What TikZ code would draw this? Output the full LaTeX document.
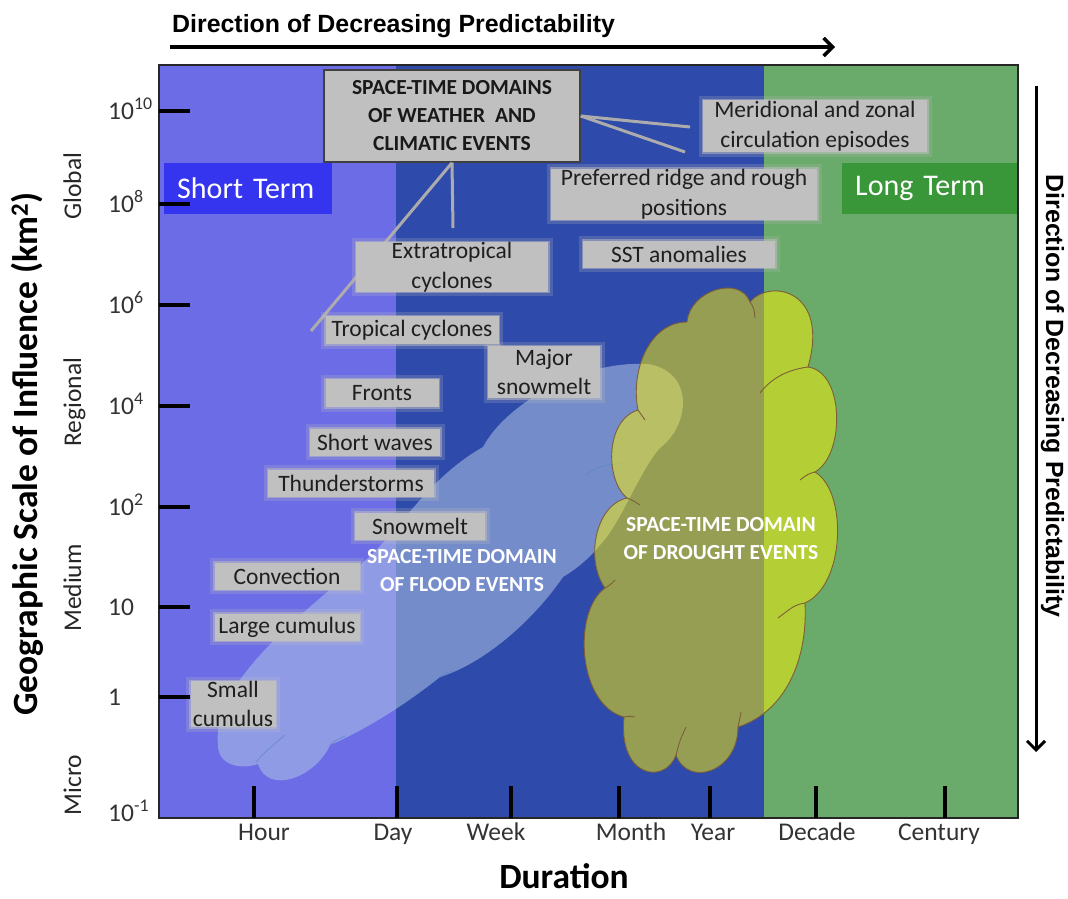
\documentclass[tikz,border=0pt]{standalone}
\usepackage{fontspec}
\setmainfont{Carlito}
\newfontfamily\arrowFamily{Liberation Sans}
\usetikzlibrary{arrows.meta}

\def \shortTermStr {Short Term}
\def \longTermStr {Long Term}
\def \weatherDomainStr {SPACE-TIME DOMAINS\\OF WEATHER \ AND\\CLIMATIC EVENTS}
\def \meridionalStr {Meridional and zonal\\circulation episodes}
\def \ridgeStr {Preferred ridge and rough\\positions}
\def \sstStr {SST anomalies}
\def \extratropicalStr {Extratropical\\cyclones}
\def \tropicalStr {Tropical cyclones}
\def \majorSnowmeltStr {Major\\snowmelt}
\def \frontsStr {Fronts}
\def \shortWavesStr {Short waves}
\def \thunderstormsStr {Thunderstorms}
\def \snowmeltStr {Snowmelt}
\def \convectionStr {Convection}
\def \largeCumulusStr {Large cumulus}
\def \smallCumulusStr {Small\\cumulus}
\def \floodDomainStr {SPACE-TIME DOMAIN\\OF FLOOD EVENTS}
\def \droughtDomainStr {SPACE-TIME DOMAIN\\OF DROUGHT EVENTS}
\def \predictabilityStr {Direction of Decreasing Predictability}
\def \scaleAxisStr {Geographic Scale of Influence (km\textsuperscript{2})}
\def \durationStr {Duration}

\def \evFont {\fontsize{23.5}{29.5}\selectfont}
\def \tickFont {\fontsize{25.5}{30}\selectfont}
\def \termFont {\fontsize{30}{34}\selectfont}
\def \domainFont {\fontsize{21.5}{28}\selectfont\bfseries}
\def \titleFont {\fontsize{35.5}{40}\selectfont\bfseries}
\def \arrowFont {\arrowFamily\fontsize{24.9}{28}\selectfont\bfseries}

\definecolor{hourblue}{RGB}{108,108,230}
\definecolor{dayblue}{RGB}{46,74,170}
\definecolor{decadegreen}{RGB}{106,170,107}
\definecolor{shortblue}{RGB}{53,53,240}
\definecolor{longgreen}{RGB}{57,150,57}
\definecolor{boxgray}{RGB}{192,192,192}
\definecolor{linkgray}{RGB}{172,172,172}
\definecolor{floodfill}{RGB}{175,195,230}
\definecolor{floodedge}{RGB}{95,135,200}
\definecolor{droughtedge}{RGB}{125,95,55}

\begin{document}
\begin{tikzpicture}[x=1pt, y=-1pt,
  evbox/.style={fill=boxgray, draw=boxgray, draw opacity=0.5, line width=3pt,
    preaction={draw=boxgray, draw opacity=0.22, line width=9pt},
    inner sep=0pt, align=center, text=black!88, font=\evFont},
  termbox/.style={anchor=west, minimum height=51pt, inner xsep=13pt, inner ysep=0pt,
    align=left, text=white, font=\termFont},
  linkline/.style={linkgray, line width=3pt},
  tickline/.style={black, line width=3.5pt},
  ticklabel/.style={text=black!80, font=\tickFont, inner sep=0pt},
  scalelabel/.style={text=black!85, font=\tickFont, rotate=90, anchor=base, inner sep=0pt},
  domaintext/.style={text=white, font=\domainFont, align=center},
  predarrow/.style={line width=3.5pt, -{Straight Barb[length=9pt, width=18pt]}},
  notch/.style={line width=0.9pt}]

\useasboundingbox[fill=white] (0,0) rectangle (1068,899);

% time bands
\fill[hourblue] (159,65) rectangle (396,818);
\fill[dayblue] (396,65) rectangle (764,818);
\fill[decadegreen] (764,65) rectangle (1018,818);

\node[termbox, fill=shortblue, text width=142pt] (shortTerm) at (164,188) {\shortTermStr};
\node[termbox, fill=longgreen, text width=150pt] (longTerm) at (842,188) {\longTermStr};

% flood cloud
\fill[floodfill, fill opacity=0.55]
  (218,745) .. controls (212,690) and (280,630) .. (360,565)
  .. controls (400,532) and (425,480) .. (483,447)
  .. controls (505,405) and (580,360) .. (648,364)
  .. controls (695,372) and (690,425) .. (660,448)
  .. controls (640,470) and (620,525) .. (600,545)
  .. controls (590,558) and (575,570) .. (563,577)
  .. controls (530,625) and (480,665) .. (440,677)
  .. controls (405,705) and (365,730) .. (330,745)
  .. controls (315,778) and (268,795) .. (258,764)
  .. controls (240,770) and (218,765) .. (218,745) -- cycle;
\begin{scope}[floodedge, notch, draw opacity=0.7]
\draw (256,762) .. controls (265,752) .. (285,735);
\draw (330,745) .. controls (336,740) .. (345,736);
\draw (440,677) .. controls (446,673) .. (454,671);
\draw (585,475) .. controls (600,466) .. (622,463);
\end{scope}

% drought cloud
\draw[fill=yellow, fill opacity=0.5, draw=droughtedge, notch]
  (687,322) .. controls (690,290) and (740,275) .. (750,302)
  .. controls (770,278) and (830,290) .. (808,367)
  .. controls (845,372) and (845,455) .. (815,472)
  .. controls (848,492) and (845,585) .. (805,603)
  .. controls (808,660) and (785,712) .. (738,727)
  .. controls (738,772) and (688,788) .. (676,755)
  .. controls (665,785) and (618,778) .. (624,717)
  .. controls (578,705) and (572,612) .. (605,588)
  .. controls (585,560) and (595,505) .. (627,498)
  .. controls (605,480) and (605,420) .. (638,410)
  .. controls (630,370) and (650,322) .. (687,322) -- cycle;
\begin{scope}[droughtedge, notch]
\draw (750,302) .. controls (754,308) .. (755,318);
\draw (808,367) .. controls (785,370) and (770,380) .. (760,393);
\draw (815,472) .. controls (808,474) .. (800,480);
\draw (805,603) .. controls (795,605) .. (778,618);
\draw (738,727) .. controls (740,720) .. (741,712);
\draw (676,755) .. controls (680,740) .. (686,727);
\draw (624,717) .. controls (628,716) .. (635,717);
\draw (605,588) .. controls (610,585) .. (615,580);
\draw (627,498) .. controls (632,500) .. (640,505);
\draw (638,410) .. controls (641,415) .. (645,420);
\end{scope}

% event boxes
\node[fill=boxgray, draw=black!75, line width=1.5pt, minimum width=256pt, minimum height=92pt,
  inner sep=0pt, align=center, font=\domainFont, text=black!90] (wxBox) at (452,116) {\weatherDomainStr};

\coordinate (tcEnd) at (311,331);
\coordinate (xtEnd) at (453,228);
\coordinate (mzEnd) at (690,127);
\coordinate (prEnd) at (685,152);
\draw[linkline] (wxBox.south) -- (tcEnd);
\draw[linkline] (wxBox.south) -- (xtEnd);
\draw[linkline] (wxBox.east) -- (mzEnd);
\draw[linkline] (wxBox.east) -- (prEnd);

\node[evbox, minimum width=224pt, minimum height=52pt] (mzBox) at (815,126) {\meridionalStr};
\node[evbox, minimum width=266pt, minimum height=51pt] (prBox) at (684,194) {\ridgeStr};
\node[evbox, minimum width=192pt, minimum height=27pt] (sstBox) at (679,254) {\sstStr};
\node[evbox, minimum width=192pt, minimum height=48pt] (xtBox) at (452,267) {\extratropicalStr};
\node[evbox, minimum width=173pt, minimum height=28pt] (tcBox) at (412,330) {\tropicalStr};
\node[evbox, minimum width=112pt, minimum height=52pt] (msBox) at (544,372) {\majorSnowmeltStr};
\node[evbox, minimum width=113pt, minimum height=28pt] (frBox) at (382,393) {\frontsStr};
\node[evbox, minimum width=130pt, minimum height=27pt] (swBox) at (375,442) {\shortWavesStr};
\node[evbox, minimum width=166pt, minimum height=27pt] (tsBox) at (351,483) {\thunderstormsStr};
\node[evbox, minimum width=130pt, minimum height=27pt] (smBox) at (420,526) {\snowmeltStr};
\node[evbox, minimum width=145pt, minimum height=27pt] (cvBox) at (287,576) {\convectionStr};
\node[evbox, minimum width=145pt, minimum height=27pt] (lcBox) at (287,627) {\largeCumulusStr};
\node[evbox, minimum width=85pt, minimum height=46pt] (scBox) at (233,704) {\smallCumulusStr};

\node[domaintext] (floodText) at (462,571) {\floodDomainStr};
\node[domaintext] (droughtText) at (721,539) {\droughtDomainStr};

% frame and ticks
\draw[black!85, line width=1.5pt] (159,65) rectangle (1018,818);
\foreach \yy/\lab [count=\i] in {111/{10\textsuperscript{10}}, 204/{10\textsuperscript{8}},
    305/{10\textsuperscript{6}}, 406/{10\textsuperscript{4}}, 507/{10\textsuperscript{2}},
    607/{10}, 697/{1}} {
  \draw[tickline] (159,\yy) -- (190,\yy);
  \node[ticklabel, anchor=base west] (ylab\i) at (108,\yy+8) {\lab};
}
\node[ticklabel, anchor=base west] (ylabMin) at (108,821) {10\textsuperscript{-1}};

\foreach \xx/\lx/\lab [count=\i] in {254/264/Hour, 397/393/Day, 511/496/Week,
    619/631/Month, 710/713/Year, 816/817/Decade, 945/939/Century} {
  \draw[tickline] (\xx,786) -- (\xx,818);
  \node[ticklabel, anchor=base] (xlab\i) at (\lx,840) {\lab};
}

% scale classes
\node[scalelabel] (globalLab) at (81,186) {Global};
\node[scalelabel] (regionalLab) at (81,402) {Regional};
\node[scalelabel] (mediumLab) at (81,588) {Medium};
\node[scalelabel] (microLab) at (81,785) {Micro};

% axis titles
\node[font=\titleFont, rotate=90, anchor=base, inner sep=0pt] (scaleTitle) at (37,454) {\scaleAxisStr};
\node[font=\titleFont, anchor=base, inner sep=0pt] (durationTitle) at (564,888) {\durationStr};

% predictability arrows
\node[font=\arrowFont, anchor=base west, inner sep=0pt] (topPred) at (172,33) {\predictabilityStr};
\coordinate (topStart) at (170,47);
\coordinate (topEnd) at (835,47);
\draw[predarrow] (topStart) -- (topEnd);

\node[font=\arrowFont, rotate=-90, anchor=base, inner sep=0pt] (sidePred) at (1046,396) {\predictabilityStr};
\coordinate (sideStart) at (1036,86);
\coordinate (sideEnd) at (1036,752);
\draw[predarrow, line width=3pt] (sideStart) -- (sideEnd);

\end{tikzpicture}
\end{document}
